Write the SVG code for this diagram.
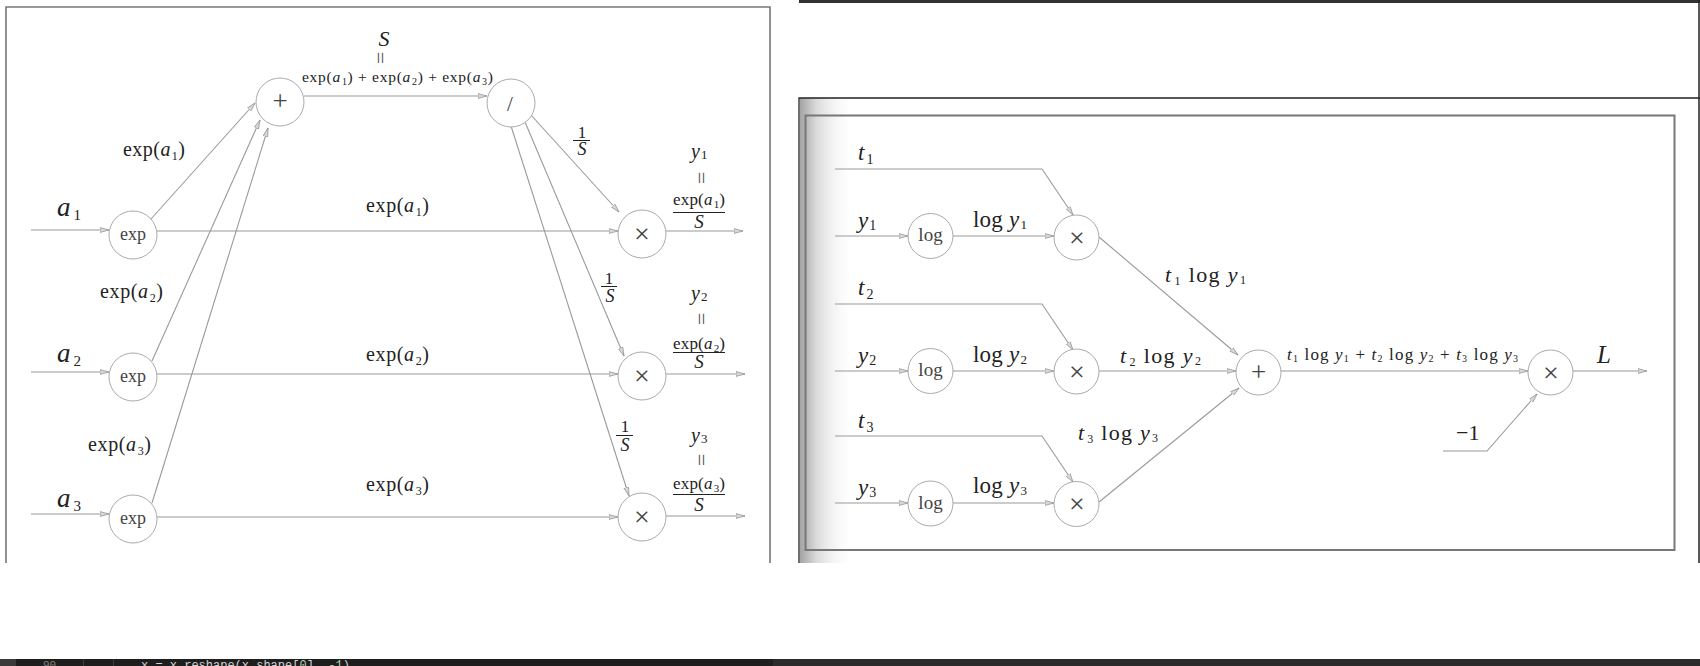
<svg xmlns="http://www.w3.org/2000/svg" width="1700" height="666" viewBox="0 0 1700 666">
<defs>
<style>
.m{font-family:"Liberation Serif","DejaVu Serif",serif;fill:#222}
.i{font-style:italic}
.e{fill:none;stroke:#9a9a9a;stroke-width:1.1;marker-end:url(#ah)}
.n{fill:#fff;stroke:#aaa;stroke-width:1}
.sym{font-family:"Liberation Serif","DejaVu Serif",serif;fill:#444;text-anchor:middle}
.x{font-family:"Liberation Serif","DejaVu Serif",serif;fill:#444;text-anchor:middle;font-size:28px}
.bar{stroke:#222;stroke-width:1}
.eq{font-family:"Liberation Serif","DejaVu Serif",serif;fill:#555;text-anchor:middle;font-size:22px}
</style>
<marker id="ah" markerWidth="10" markerHeight="8" refX="9" refY="3" orient="auto" markerUnits="userSpaceOnUse"><path d="M0,0.6 L9,3 L0,5.4 z" fill="#d8d8d8" stroke="#999" stroke-width="0.8"/></marker>
<linearGradient id="sh" x1="0" y1="0" x2="1" y2="0"><stop offset="0" stop-color="#a4a4a4"/><stop offset="0.3" stop-color="#dadada"/><stop offset="1" stop-color="#fff" stop-opacity="0"/></linearGradient>
</defs>
<rect width="1700" height="666" fill="#fff"/>

<!-- left panel frame -->
<path d="M6,563 V7 H770 V563" fill="none" stroke="#777" stroke-width="1.6"/>

<!-- right panel frame -->
<rect x="799" y="0" width="901" height="3" fill="#333"/>
<rect x="800" y="98" width="55" height="465" fill="url(#sh)"/>
<path d="M799,563 V98 H1700" fill="none" stroke="#222" stroke-width="1.3"/>
<line x1="1699" y1="0" x2="1699" y2="563" stroke="#222" stroke-width="1.5"/>
<rect x="805.5" y="115.5" width="869" height="434.5" fill="none" stroke="#777" stroke-width="2"/>

<!-- bottom bar -->
<rect x="0" y="659" width="1700" height="7" fill="#1e1e1e"/>
<rect x="0" y="659" width="16" height="7" fill="#3a3a3a"/>
<rect x="773" y="659" width="927" height="7" fill="#2b2b2b"/>
<line x1="83.5" y1="659" x2="83.5" y2="666" stroke="#3c3c3c"/>
<line x1="113.5" y1="659" x2="113.5" y2="666" stroke="#3c3c3c"/>
<text x="43" y="668" font-family="Liberation Mono, monospace" font-size="11" fill="#858585">90</text>
<text x="141" y="668.5" font-family="Liberation Mono, monospace" font-size="12" fill="#d4d4d4">x = x.reshape(x.shape[<tspan fill="#b5cea8">0</tspan>], <tspan fill="#b5cea8">-1</tspan>)</text>

<!-- connectors -->
<g id="connectors">
<path class="e" d="M31,230 H109"/>
<path class="e" d="M31,372 H109"/>
<path class="e" d="M31,514 H109"/>
<path class="e" d="M157,231 H618"/>
<path class="e" d="M157,374 H618"/>
<path class="e" d="M157,517 H618"/>
<path class="e" d="M151,219 L255,103"/>
<path class="e" d="M152,361 L260,120"/>
<path class="e" d="M152,503 L268,128"/>
<path class="e" d="M304,96 H487"/>
<path class="e" d="M531,115 L619,212"/>
<path class="e" d="M525,122 L624,356"/>
<path class="e" d="M511,126 L629,496"/>
<path class="e" d="M666,231 H743"/>
<path class="e" d="M666,374 H745"/>
<path class="e" d="M666,516 H745"/>

<path class="e" d="M835,169 H1042 L1073,215"/>
<path class="e" d="M835,236 H908"/>
<path class="e" d="M953,236 H1054"/>
<path class="e" d="M835,304 H1042 L1073,350"/>
<path class="e" d="M835,371 H908"/>
<path class="e" d="M953,371 H1054"/>
<path class="e" d="M835,436 H1042 L1073,482"/>
<path class="e" d="M835,503 H908"/>
<path class="e" d="M953,503 H1054"/>
<path class="e" d="M1099,237 L1238,355"/>
<path class="e" d="M1099,371 H1236"/>
<path class="e" d="M1099,502 L1239,388"/>
<path class="e" d="M1281,371 H1528"/>
<path class="e" d="M1443,451 H1487 L1537,394"/>
<path class="e" d="M1573,371 H1647"/>
</g>

<!-- left nodes -->
<g id="exp1"><circle class="n" cx="133" cy="235" r="24"/><text class="sym" x="133" y="240" font-size="18">exp</text></g>
<g id="exp2"><circle class="n" cx="133" cy="377" r="24"/><text class="sym" x="133" y="382" font-size="18">exp</text></g>
<g id="exp3"><circle class="n" cx="133" cy="519" r="24"/><text class="sym" x="133" y="524" font-size="18">exp</text></g>
<g id="plus"><circle class="n" cx="280" cy="102" r="24"/><text class="sym" x="280" y="110" font-size="27">+</text></g>
<g id="div"><circle class="n" cx="511" cy="103" r="24"/><text class="sym" x="510" y="111" font-size="21">/</text></g>
<g id="mul1"><circle class="n" cx="642" cy="234" r="24"/><text class="x" x="642" y="243">×</text></g>
<g id="mul2"><circle class="n" cx="642" cy="376" r="24"/><text class="x" x="642" y="385">×</text></g>
<g id="mul3"><circle class="n" cx="642" cy="517" r="24"/><text class="x" x="642" y="526">×</text></g>

<!-- right nodes -->
<g id="log1"><circle class="n" cx="930.5" cy="236" r="22.5"/><text class="sym" x="930.5" y="241" font-size="19">log</text></g>
<g id="log2"><circle class="n" cx="930.5" cy="371" r="22.5"/><text class="sym" x="930.5" y="376" font-size="19">log</text></g>
<g id="log3"><circle class="n" cx="930.5" cy="503.5" r="22.5"/><text class="sym" x="930.5" y="508.5" font-size="19">log</text></g>
<g id="rmul1"><circle class="n" cx="1076.5" cy="237.5" r="22.5"/><text class="x" x="1077" y="246.5">×</text></g>
<g id="rmul2"><circle class="n" cx="1076.5" cy="371.5" r="22.5"/><text class="x" x="1077" y="380.5">×</text></g>
<g id="rmul3"><circle class="n" cx="1076.5" cy="504" r="22.5"/><text class="x" x="1077" y="513">×</text></g>
<g id="rplus"><circle class="n" cx="1258.5" cy="372.5" r="22.5"/><text class="sym" x="1258.5" y="381" font-size="27">+</text></g>
<g id="rmulL"><circle class="n" cx="1550.5" cy="372.5" r="22.5"/><text class="x" x="1551" y="381.5">×</text></g>

<!-- left labels -->
<g id="labels-left">
<text class="m" x="57" y="216" font-size="27"><tspan class="i">a</tspan><tspan font-size="15" dx="3" dy="4">1</tspan></text>
<text class="m" x="57" y="362" font-size="27"><tspan class="i">a</tspan><tspan font-size="15" dx="3" dy="4">2</tspan></text>
<text class="m" x="57" y="507" font-size="27"><tspan class="i">a</tspan><tspan font-size="15" dx="3" dy="4">3</tspan></text>

<text class="m" x="123" y="156" font-size="20" textLength="62">exp(<tspan class="i">a</tspan><tspan font-size="12" dx="1" dy="4">1</tspan><tspan dy="-4">)</tspan></text>
<text class="m" x="100" y="298" font-size="20" textLength="63">exp(<tspan class="i">a</tspan><tspan font-size="12" dx="1" dy="4">2</tspan><tspan dy="-4">)</tspan></text>
<text class="m" x="88" y="451" font-size="20" textLength="63">exp(<tspan class="i">a</tspan><tspan font-size="12" dx="1" dy="4">3</tspan><tspan dy="-4">)</tspan></text>

<text class="m" x="366" y="212" font-size="20" textLength="63">exp(<tspan class="i">a</tspan><tspan font-size="12" dx="1" dy="4">1</tspan><tspan dy="-4">)</tspan></text>
<text class="m" x="366" y="361" font-size="20" textLength="63">exp(<tspan class="i">a</tspan><tspan font-size="12" dx="1" dy="4">2</tspan><tspan dy="-4">)</tspan></text>
<text class="m" x="366" y="491" font-size="20" textLength="63">exp(<tspan class="i">a</tspan><tspan font-size="12" dx="1" dy="4">3</tspan><tspan dy="-4">)</tspan></text>

<text class="m i" x="384" y="46" font-size="22" text-anchor="middle">S</text>
<text class="eq" x="0" y="0" transform="translate(373,58) rotate(90)">=</text>
<text class="m" x="302" y="82" font-size="15.5" textLength="191">exp(<tspan class="i">a</tspan><tspan font-size="10" dx="1" dy="3">1</tspan><tspan dy="-3">) + exp(</tspan><tspan class="i">a</tspan><tspan font-size="10" dx="1" dy="3">2</tspan><tspan dy="-3">) + exp(</tspan><tspan class="i">a</tspan><tspan font-size="10" dx="1" dy="3">3</tspan><tspan dy="-3">)</tspan></text>

<text class="m" x="582" y="138" font-size="17" text-anchor="middle">1</text>
<line class="bar" x1="573" y1="140.5" x2="590" y2="140.5"/>
<text class="m i" x="582" y="155" font-size="18" text-anchor="middle">S</text>
<text class="m" x="609" y="284" font-size="17" text-anchor="middle">1</text>
<line class="bar" x1="601" y1="286.5" x2="617" y2="286.5"/>
<text class="m i" x="610" y="302" font-size="18" text-anchor="middle">S</text>
<text class="m" x="625" y="432" font-size="17" text-anchor="middle">1</text>
<line class="bar" x1="616" y1="435.5" x2="633" y2="435.5"/>
<text class="m i" x="625" y="451" font-size="18" text-anchor="middle">S</text>

<text class="m" x="691" y="158" font-size="20"><tspan class="i">y</tspan><tspan font-size="13" dx="1" dy="1">1</tspan></text>
<text class="eq" x="0" y="0" transform="translate(694,178) rotate(90)">=</text>
<text class="m" x="673" y="205" font-size="17" textLength="52">exp(<tspan class="i">a</tspan><tspan font-size="11" dx="1" dy="3">1</tspan><tspan dy="-3">)</tspan></text>
<line class="bar" x1="673" y1="212.5" x2="725" y2="212.5"/>
<text class="m i" x="699" y="228" font-size="19" text-anchor="middle">S</text>

<text class="m" x="691" y="300" font-size="20"><tspan class="i">y</tspan><tspan font-size="13" dx="1" dy="1">2</tspan></text>
<text class="eq" x="0" y="0" transform="translate(694,319) rotate(90)">=</text>
<text class="m" x="673" y="349" font-size="17" textLength="52">exp(<tspan class="i">a</tspan><tspan font-size="11" dx="1" dy="3">2</tspan><tspan dy="-3">)</tspan></text>
<line class="bar" x1="673" y1="352.5" x2="725" y2="352.5"/>
<text class="m i" x="699" y="368" font-size="19" text-anchor="middle">S</text>

<text class="m" x="691" y="442" font-size="20"><tspan class="i">y</tspan><tspan font-size="13" dx="1" dy="1">3</tspan></text>
<text class="eq" x="0" y="0" transform="translate(694,460) rotate(90)">=</text>
<text class="m" x="673" y="489" font-size="17" textLength="52">exp(<tspan class="i">a</tspan><tspan font-size="11" dx="1" dy="3">3</tspan><tspan dy="-3">)</tspan></text>
<line class="bar" x1="673" y1="494.5" x2="725" y2="494.5"/>
<text class="m i" x="699" y="511" font-size="19" text-anchor="middle">S</text>
</g>

<!-- right labels -->
<g id="labels-right">
<text class="m" x="858" y="160" font-size="23"><tspan class="i">t</tspan><tspan font-size="14" dx="2" dy="4">1</tspan></text>
<text class="m" x="858" y="228" font-size="23"><tspan class="i">y</tspan><tspan font-size="14" dx="1" dy="2">1</tspan></text>
<text class="m" x="858" y="295" font-size="23"><tspan class="i">t</tspan><tspan font-size="14" dx="2" dy="4">2</tspan></text>
<text class="m" x="858" y="363" font-size="23"><tspan class="i">y</tspan><tspan font-size="14" dx="1" dy="2">2</tspan></text>
<text class="m" x="858" y="428" font-size="23"><tspan class="i">t</tspan><tspan font-size="14" dx="2" dy="4">3</tspan></text>
<text class="m" x="858" y="495" font-size="23"><tspan class="i">y</tspan><tspan font-size="14" dx="1" dy="2">3</tspan></text>

<text class="m" x="973" y="227" font-size="23" textLength="54">log <tspan class="i">y</tspan><tspan font-size="13" dx="1" dy="2">1</tspan></text>
<text class="m" x="973" y="362" font-size="23" textLength="54">log <tspan class="i">y</tspan><tspan font-size="13" dx="1" dy="2">2</tspan></text>
<text class="m" x="973" y="493" font-size="23" textLength="54">log <tspan class="i">y</tspan><tspan font-size="13" dx="1" dy="2">3</tspan></text>

<text class="m" x="1165" y="282" font-size="22" textLength="81"><tspan class="i">t</tspan><tspan font-size="12" dx="2" dy="3">1</tspan><tspan dy="-3"> log </tspan><tspan class="i">y</tspan><tspan font-size="12" dx="1" dy="2">1</tspan></text>
<text class="m" x="1120" y="363" font-size="22" textLength="81"><tspan class="i">t</tspan><tspan font-size="12" dx="2" dy="3">2</tspan><tspan dy="-3"> log </tspan><tspan class="i">y</tspan><tspan font-size="12" dx="1" dy="2">2</tspan></text>
<text class="m" x="1078" y="440" font-size="22" textLength="80"><tspan class="i">t</tspan><tspan font-size="12" dx="2" dy="3">3</tspan><tspan dy="-3"> log </tspan><tspan class="i">y</tspan><tspan font-size="12" dx="1" dy="2">3</tspan></text>

<text class="m" x="1287" y="360" font-size="17" textLength="231"><tspan class="i">t</tspan><tspan font-size="10" dy="2">1</tspan><tspan dy="-2"> log </tspan><tspan class="i">y</tspan><tspan font-size="10" dy="2">1</tspan><tspan dy="-2"> + </tspan><tspan class="i">t</tspan><tspan font-size="10" dy="2">2</tspan><tspan dy="-2"> log </tspan><tspan class="i">y</tspan><tspan font-size="10" dy="2">2</tspan><tspan dy="-2"> + </tspan><tspan class="i">t</tspan><tspan font-size="10" dy="2">3</tspan><tspan dy="-2"> log </tspan><tspan class="i">y</tspan><tspan font-size="10" dy="2">3</tspan></text>

<text class="m i" x="1597" y="363" font-size="25">L</text>
<text class="m" x="1456" y="440" font-size="22">−1</text>
</g>
</svg>
